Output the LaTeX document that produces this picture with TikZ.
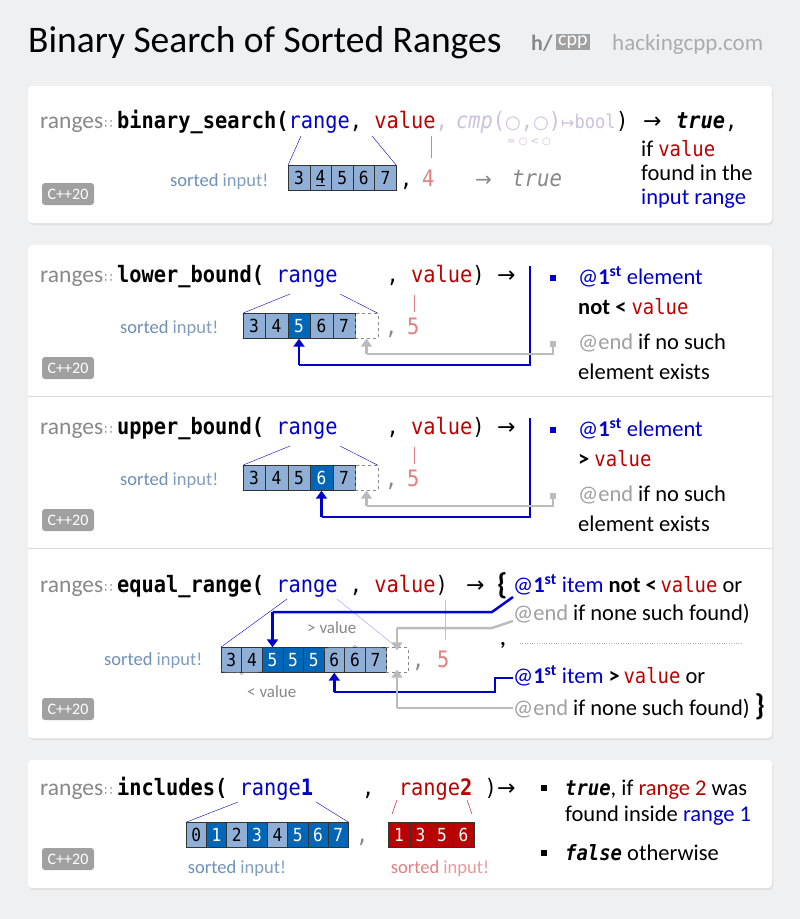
\documentclass[tikz,border=0pt]{standalone}
\usepackage{fontspec}
\setmainfont{Carlito}
\setmonofont[FakeStretch=0.9]{DejaVu Sans Mono}
\newfontfamily\dvs{DejaVu Sans}
\usetikzlibrary{arrows.meta,decorations.pathreplacing}
\definecolor{bg}{HTML}{EEF0F2}
\definecolor{cb}{HTML}{0000CC}
\definecolor{cr}{HTML}{BB0000}
\definecolor{lc}{HTML}{8FAFD6}
\definecolor{dc}{HTML}{0066B8}
\definecolor{gt}{HTML}{888888}
\definecolor{pur}{HTML}{CFC0E0}
\definecolor{rl}{HTML}{E08080}
\definecolor{sb}{HTML}{6E8FB8}
\definecolor{ag}{HTML}{BBBBBB}
\newcommand\vtt[1]{{\fontsize{21}{24}\selectfont\texttt{#1}}}
\tikzset{
 panel/.style={fill=white,rounded corners=4pt,draw=none},
 pre/.style={anchor=base west,inner sep=0,font=\fontsize{23.5}{24}\selectfont,text=gt},
 cd/.style={anchor=base west,inner sep=0,font=\fontsize{22.6}{24}\selectfont\ttfamily},
 tx/.style={anchor=base west,inner sep=0,font=\fontsize{22.5}{26}\selectfont},
 sm/.style={anchor=base west,inner sep=0,font=\fontsize{18.5}{20}\selectfont},
 badge/.style={fill=gt!80,text=white,rounded corners=3pt,inner sep=3pt,font=\fontsize{16}{17}\selectfont,minimum width=52pt,minimum height=22pt},
 lcell/.style={draw=black!80,fill=lc,minimum height=25pt,inner sep=0,font=\fontsize{18}{20}\selectfont\ttfamily},
 dcell/.style={lcell,fill=dc,text=white},
 rcell/.style={draw=black!80,fill=cr,text=white,minimum height=25pt,inner sep=0,font=\fontsize{18}{20}\selectfont\ttfamily},
 ecell/.style={draw=gt,dashed,minimum height=25pt,inner sep=0},
 bl/.style={cb,line width=2.5pt},
 gl/.style={ag,line width=2.5pt},
 ba/.style={bl,-{Triangle[length=8pt,width=11pt]}},
 ga/.style={gl,-{Triangle[length=8pt,width=11pt]}},
 sq/.style={minimum size=6pt,inner sep=0}
}
\newcommand\rng{ranges\kern1pt{\dvs\fontsize{13}{14}\selectfont∷}}
\begin{document}
\begin{tikzpicture}[x=1pt,y=-1pt]
\fill[bg] (0,0) rectangle (800,919);
\useasboundingbox (0,0) rectangle (800,919);
% title
\node[anchor=base west,inner sep=0,font=\fontsize{37.5}{42}\selectfont] (title) at (28,52) {Binary Search of Sorted Ranges};
\node[anchor=base west,inner sep=0,font=\fontsize{22}{26}\selectfont\bfseries,text=gt] (logoh) at (531,50) {h/};
\node[anchor=west,fill=gt!80,text=white,inner sep=2pt,font=\fontsize{20}{24}\selectfont] (logoc) at (556,42) {cpp};
\node[anchor=base west,inner sep=0,font=\fontsize{23}{26}\selectfont,text=gt!70] (site) at (612,50) {hackingcpp.com};
% panels
\foreach \a/\b in {86/223,245/738,760/888}{
 \fill[black!12,rounded corners=4pt] (29,\a+2) rectangle (773,\b+2);
 \fill[panel] (28,\a) rectangle (772,\b);}
\draw[black!15] (28,396) -- (772,396);
\draw[black!15] (28,548) -- (772,548);
% ---------- panel 1
\node[pre] (p1a) at (40,128) {\rng};
\node[cd] (p1b) at (117,128) {\textbf{binary\_search(}\textcolor{cb}{range}, \textcolor{cr}{value}\textcolor{pur}{,}};
\node[cd,text=pur,anchor=base west] (p1m) at ([xshift=8pt]p1b.base east) {\textit{cmp}({\dvs\fontsize{18}{18}\selectfont○},{\dvs\fontsize{18}{18}\selectfont○}){\dvs\fontsize{16}{16}\selectfont↦}{\fontsize{19}{18}\selectfont bool}};
\node[cd,anchor=base west] (p1p) at (p1m.base east) {)};
\node[tx,font=\fontsize{22}{26}\selectfont\dvs] (p1ar) at (643,128) {→};
\node[cd] (p1t) at (676,128) {\textbf{\textit{true}},};
\node[anchor=base west,inner sep=0,font=\fontsize{10}{12}\selectfont\dvs,text=pur] (p1eq) at (507,144) {= ○ < ○};
\node[tx] (p1i1) at (641,156) {if \vtt{\textcolor{cr}{value}}};
\node[tx] (p1i2) at (641,180) {found in the};
\node[tx,text=cb] (p1i3) at (641,204) {input range};
\node[sm] (p1s) at (170,186) {\textcolor{sb}{sorted} \textcolor{lc!90!black}{input!}};
\foreach \v [count=\i from 0] in {3,{\underline{4}},5,6,7}
 \node[lcell,minimum width=21.6pt] (a\i) at (299+21.6*\i,178) {\v};
\node[cd] (p1k) at (400,186) {,};
\node[cd,text=rl] (p1four) at (422,186) {4};
\node[tx,font=\fontsize{20}{24}\selectfont\dvs,text=gt] (p1r2) at (475,186) {→};
\node[cd,text=gt,font=\fontsize{23}{26}\selectfont\ttfamily\itshape] (p1tr) at (512,186) {true};
\node[badge] (b1) at (68,194) {C++20};
\draw[cb] (a0.north west) -- (301,136);
\draw[cb] (a4.north east) -- (372,136);
\draw[rl] (431,136) -- (431,158);
% ---------- bound panels
\newcommand\boundpanel[5]{%
\node[pre] (#1a) at (40,#2) {\rng};
\node[cd] (#1b) at (117,#2) {\textbf{#3}~\textcolor{cb}{range}~~~~,~\textcolor{cr}{value})};
\node[tx,font=\fontsize{22}{26}\selectfont\dvs] (#1ar) at (497,#2) {→};
\node[sm] (#1s) at (120,#2+51) {\textcolor{sb}{sorted} \textcolor{lc!90!black}{input!}};
\foreach \v [count=\i from 0] in {3,4,5,6,7}{
 \ifnum\i=#4 \node[dcell,minimum width=22.5pt] (#1c\i) at (254+22.5*\i,#2+44) {\v};
 \else \node[lcell,minimum width=22.5pt] (#1c\i) at (254+22.5*\i,#2+44) {\v};\fi}
\node[ecell,minimum width=22.5pt] (#1e) at (366.5,#2+44) {};
\node[cd,text=gt] (#1k) at (385,#2+52) {,};
\node[cd,text=rl] (#1five) at (407,#2+52) {5};
\draw[cb] (#1c0.north west) -- (290,#2+12);
\draw[cb] (#1e.north east) -- (340,#2+12);
\draw[rl] (414,#2+13) -- (414,#2+30);
\node[sq,fill=cb] (#1q1) at (553,#2-4) {};
\node[tx,text=cb] (#1t1) at (578,#2+2) {@\textbf{1\textsuperscript{st}} element};
\node[tx] (#1t2) at (578,#2+32) {#5 \vtt{\textcolor{cr}{value}}};
\node[sq,fill=ag] (#1q2) at (553,#2+62) {};
\node[tx] (#1t3) at (578,#2+67) {\textcolor{gt!80}{@end} if no such};
\node[tx] (#1t4) at (578,#2+97) {element exists};
\coordinate (#1v1) at (530,#2-16);
\coordinate (#1v2) at (530,#2+83);
\draw[bl] (#1v1) -- (#1v2) -- (#1c#4.south |- #1v2);
\draw[ba] (#1c#4.south |- #1v2) -- (#1c#4.south);
\draw[gl] (#1q2.south) -- (553,#2+72) -- (#1e.south |- 0,#2+72);
\draw[ga] (#1e.south |- 0,#2+72) -- (#1e.south);
\node[badge] (#1bd) at (68,#2+86) {C++20};}
\boundpanel{lb}{282}{lower\_bound(}{2}{\textbf{not <}}
\boundpanel{ub}{434}{upper\_bound(}{3}{\textbf{>}}
% ---------- equal_range
\node[pre] (era) at (40,592) {\rng};
\node[cd] (erb) at (117,592) {\textbf{equal\_range(}~\textcolor{cb}{range}~,~\textcolor{cr}{value})};
\node[tx,font=\fontsize{22}{26}\selectfont\dvs] (erar) at (466,592) {→};
\node[anchor=base west,inner sep=0,font=\fontsize{30}{32}\selectfont\bfseries] (br1) at (497,594) {\{};
\node[tx] (e1) at (513,592) {\textcolor{cb}{@\textbf{1\textsuperscript{st}} item} \textbf{not <}\,\vtt{\textcolor{cr}{value}} or};
\node[tx] (e2) at (513,620) {\textcolor{gt!80}{@end} if none such found)};
\node[tx,font=\fontsize{22}{26}\selectfont\bfseries] (ecm) at (500,645) {,};
\draw[black!30,dotted] (520,643) -- (742,643);
\node[tx] (e3) at (513,683) {\textcolor{cb}{@\textbf{1\textsuperscript{st}} item} \textbf{>}\,\vtt{\textcolor{cr}{value}} or};
\node[tx] (e4) at (513,715) {\textcolor{gt!80}{@end} if none such found)\rlap{\fontsize{30}{32}\selectfont\bfseries\,\}}};
\node[sm] (ers) at (104,665) {\textcolor{sb}{sorted} \textcolor{lc!90!black}{input!}};
\foreach \v [count=\i from 0] in {3,4,5,5,5,6,6,7}{
 \ifnum\i>1 \ifnum\i<5 \node[dcell,minimum width=20.6pt] (ec\i) at (231.3+20.6*\i,660) {\v};
 \else \node[lcell,minimum width=20.6pt] (ec\i) at (231.3+20.6*\i,660) {\v};\fi
 \else \node[lcell,minimum width=20.6pt] (ec\i) at (231.3+20.6*\i,660) {\v};\fi}
\node[ecell,minimum width=22pt] (ece) at (397,660) {};
\node[cd,text=gt] (erk) at (412,667) {,};
\node[cd,text=rl] (erfive) at (437,667) {5};
\draw[decorate,decoration={brace,amplitude=5pt},gt] ([yshift=-3pt]ec5.north west) -- ([yshift=-3pt]ec7.north east);
\node[sm,text=gt,font=\fontsize{17}{18}\selectfont] (gtv) at (307,633) {> value};
\draw[decorate,decoration={brace,amplitude=5pt,mirror},gt] ([yshift=3pt]ec0.south west) -- ([yshift=3pt]ec1.south east);
\node[sm,text=gt,font=\fontsize{17}{18}\selectfont] (ltv) at (247,697) {< value};
\draw[cb] (ec0.north west) -- (287,599);
\draw[cb!40] (337,599) -- (ece.north);
\draw[rl!60] (445,600) -- (445,640);
\node[badge] (be) at (68,709) {C++20};
\draw[bl] (513,597) -- (492,612) -- (ec2.north |- 0,612);
\draw[ba] (ec2.north |- 0,612) -- (ec2.north);
\draw[gl] (513,621) -- (492,628) -- (ece.north |- 0,628);
\draw[ga] (ece.north |- 0,628) -- ([yshift=-3pt]ece.north);
\draw[bl] (513,678) -- (495,678) -- (495,692) -- (ec5.south |- 0,692);
\draw[ba] (ec5.south |- 0,692) -- (ec5.south);
\draw[gl] (513,708) -- (ece.south |- 0,708);
\draw[ga] (ece.south |- 0,708) -- ([yshift=3pt]ece.south);
% ---------- includes
\node[pre] (ina) at (40,795) {\rng};
\node[cd] (inb) at (117,795) {\textbf{includes(}~\textcolor{cb}{range\textbf{1}}~~~~,~~\textcolor{cr}{range\textbf{2}}~)};
\node[tx,font=\fontsize{22}{26}\selectfont\dvs] (inar) at (497,795) {→};
\foreach \v [count=\i from 0] in {0,1,2,3,4,5,6,7}{
 \ifodd\i \node[dcell,minimum width=20.3pt] (ic\i) at (196.2+20.3*\i,835) {\v};
 \else \ifnum\i=6 \node[dcell,minimum width=20.3pt] (ic\i) at (196.2+20.3*\i,835) {\v};
 \else \node[lcell,minimum width=20.3pt] (ic\i) at (196.2+20.3*\i,835) {\v};\fi\fi}
\node[cd,text=gt] (ink) at (356,842) {,};
\foreach \v [count=\i from 0] in {1,3,5,6}
 \node[rcell,minimum width=21.5pt] (rc\i) at (399+21.5*\i,835) {\v};
\node[sm,anchor=base] (is1) at (237,873) {\textcolor{sb}{sorted} \textcolor{lc!90!black}{input!}};
\node[sm,anchor=base] (is2) at (440,873) {\textcolor{rl}{sorted} \textcolor{rl!80}{input!}};
\draw[cb] (ic0.north west) -- (238,802);
\draw[cb] (ic7.north east) -- (316,802);
\draw[cr] (392,814) -- (397,800);
\draw[cr] (472,814) -- (467,800);
\node[sq,fill=black] (iq1) at (544,788) {};
\node[tx] (it1) at (565,795) {\vtt{\textbf{\textit{true}}}, if \textcolor{cr}{range 2} was};
\node[tx] (it2) at (565,821) {found inside \textcolor{cb}{range 1}};
\node[sq,fill=black] (iq2) at (544,853) {};
\node[tx] (it3) at (565,860) {\vtt{\textbf{\textit{false}}} otherwise};
\node[badge] (bi) at (68,859) {C++20};
\end{tikzpicture}
\end{document}
